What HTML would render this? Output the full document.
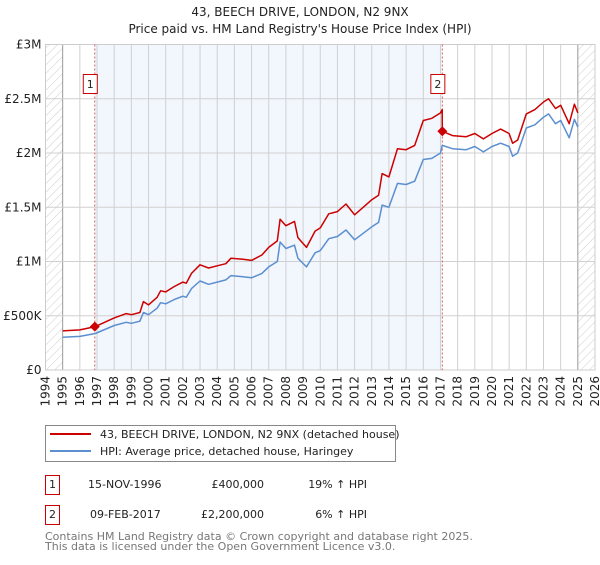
<!DOCTYPE html>
<html><head><meta charset="utf-8"><style>
body{margin:0;background:#fff;font-family:"Liberation Sans","DejaVu Sans",sans-serif;}
svg text{font-family:"DejaVu Sans","Liberation Sans",sans-serif;}
</style></head><body>
<svg id="c" width="600" height="560" xmlns="http://www.w3.org/2000/svg">
<defs><pattern id="hatch" width="6" height="6" patternUnits="userSpaceOnUse" patternTransform="rotate(45)"><line x1="0" y1="0" x2="0" y2="6" stroke="#ccc" stroke-width="1"/></pattern></defs>
<text x="300" y="16" text-anchor="middle" font-size="12" fill="#222">43, BEECH DRIVE, LONDON, N2 9NX</text>
<text x="300" y="33" text-anchor="middle" font-size="12" fill="#222">Price paid vs. HM Land Registry's House Price Index (HPI)</text>
<g id="plot"></g>
<g>
<rect x="45.5" y="425.5" width="350" height="36" fill="#fff" stroke="#888"/>
<line x1="50" y1="434" x2="91" y2="434" stroke="#cc0000" stroke-width="2"/>
<text x="100" y="438" font-size="11" fill="#222">43, BEECH DRIVE, LONDON, N2 9NX (detached house)</text>
<line x1="50" y1="451" x2="91" y2="451" stroke="#5b8fd0" stroke-width="2"/>
<text x="100" y="455" font-size="11" fill="#222">HPI: Average price, detached house, Haringey</text>
</g>
<g font-size="11" fill="#222">
<rect x="45.5" y="475.5" width="14" height="19" fill="#fff" stroke="#cc0000"/>
<text x="52.5" y="488" text-anchor="middle">1</text>
<text x="88" y="488">15-NOV-1996</text>
<text x="264" y="488" text-anchor="end">£400,000</text>
<text x="367" y="488" text-anchor="end">19% ↑ HPI</text>
<rect x="45.5" y="505.5" width="14" height="19" fill="#fff" stroke="#cc0000"/>
<text x="52.5" y="518" text-anchor="middle">2</text>
<text x="90" y="518">09-FEB-2017</text>
<text x="264" y="518" text-anchor="end">£2,200,000</text>
<text x="367" y="518" text-anchor="end">6% ↑ HPI</text>
</g>
<text x="45" y="540" font-size="11" fill="#777">Contains HM Land Registry data © Crown copyright and database right 2025.</text>
<text x="45" y="550" font-size="11" fill="#777">This data is licensed under the Open Government Licence v3.0.</text>
</svg>
<script>
const hpiYears=[1995.0,1996.0,1996.9,1998.0,1998.7,1999.0,1999.5,1999.7,2000.0,2000.5,2000.7,2001.0,2001.5,2002.0,2002.2,2002.5,2003.0,2003.5,2004.0,2004.5,2004.8,2005.5,2006.0,2006.6,2007.0,2007.5,2007.66,2008.0,2008.5,2008.7,2009.2,2009.7,2010.0,2010.5,2011.0,2011.5,2012.0,2012.5,2013.0,2013.4,2013.6,2014.0,2014.5,2015.0,2015.5,2016.0,2016.5,2017.0,2017.1,2017.11,2017.7,2018.5,2019.0,2019.5,2020.0,2020.5,2021.0,2021.2,2021.5,2022.0,2022.5,2023.0,2023.3,2023.7,2024.0,2024.5,2024.8,2025.0];
const hpiValues=[0.301,0.31,0.336,0.41,0.44,0.43,0.45,0.53,0.51,0.57,0.62,0.61,0.65,0.68,0.67,0.75,0.82,0.79,0.81,0.83,0.87,0.86,0.85,0.89,0.95,1.0,1.18,1.12,1.15,1.03,0.95,1.08,1.10,1.21,1.23,1.29,1.20,1.26,1.32,1.36,1.52,1.50,1.72,1.71,1.74,1.94,1.95,2.00,2.07,2.07,2.04,2.03,2.06,2.01,2.06,2.09,2.06,1.97,2.00,2.23,2.26,2.33,2.36,2.27,2.30,2.14,2.31,2.24];
const priceValues=[0.36,0.37,0.40,0.48,0.52,0.51,0.53,0.63,0.60,0.67,0.73,0.72,0.77,0.81,0.80,0.89,0.97,0.94,0.96,0.98,1.03,1.02,1.01,1.06,1.13,1.19,1.39,1.33,1.37,1.22,1.13,1.28,1.31,1.44,1.46,1.53,1.43,1.50,1.57,1.61,1.81,1.78,2.04,2.03,2.07,2.30,2.32,2.37,2.40,2.20,2.16,2.15,2.18,2.13,2.18,2.22,2.18,2.09,2.12,2.36,2.40,2.47,2.50,2.41,2.44,2.27,2.45,2.37];
const saleYears=[1996.87,2017.11];
const saleValues=[0.40,2.20];
const saleLabels=["1","2"];
const yTicks=[0,0.5,1,1.5,2,2.5,3];
const yTickLabels=["£0","£500K","£1M","£1.5M","£2M","£2.5M","£3M"];
const xTicks=[1994,1995,1996,1997,1998,1999,2000,2001,2002,2003,2004,2005,2006,2007,2008,2009,2010,2011,2012,2013,2014,2015,2016,2017,2018,2019,2020,2021,2022,2023,2024,2025,2026];

const X0=45.5,X1=595,Y0=370,Y1=44.5;
const xs=y=>X0+(y-1994)/32*(X1-X0);
const ys=v=>Y0-v/3*(Y0-Y1);
const NS="http://www.w3.org/2000/svg";
const g=document.getElementById('plot');
function mk(t,a){const e=document.createElementNS(NS,t);for(const k in a)e.setAttribute(k,a[k]);g.appendChild(e);return e;}

let r=mk('rect',{x:xs(saleYears[0]),y:Y1,width:xs(saleYears[1])-xs(saleYears[0]),height:Y0-Y1,fill:'#f2f6fd'});


let h1=mk('rect',{x:X0,y:Y1,width:xs(1995)-X0,height:Y0-Y1,fill:'url(#hatch)'});


let h2=mk('rect',{x:xs(2025),y:Y1,width:X1-xs(2025),height:Y0-Y1,fill:'url(#hatch)'});



xTicks.forEach((t,i)=>{
 const l=mk('line',{x1:xs(t),x2:xs(t),y1:Y1,y2:Y0,stroke:(t===1995||t===2025)?'#999':'#d0d0d0','stroke-width':1});
 
 
 const tx=mk('text',{x:0,y:0,transform:`translate(${xs(t)+4},${Y0+6}) rotate(-90)`,'text-anchor':'end','font-size':12,fill:'#222'});
 tx.textContent=t;
 
 
});
yTicks.forEach((t,i)=>{
 const l=mk('line',{x1:X0,x2:X1,y1:ys(t),y2:ys(t),stroke:'#d0d0d0','stroke-width':1});
 
 
 const tx=mk('text',{x:X0-4,y:ys(t)+4,'text-anchor':'end','font-size':12,fill:'#222'});
 tx.textContent=yTickLabels[i];
 
 
});
const fr=mk('rect',{x:X0,y:Y1,width:X1-X0,height:Y0-Y1,fill:'none',stroke:'#ccc'});



saleYears.forEach((s,i)=>{
 const l=mk('line',{x1:xs(s),x2:xs(s),y1:Y1,y2:Y0,stroke:'#e06060','stroke-width':1,'stroke-dasharray':'2,2'});
 
 
});
const pts=v=>hpiYears.map((y,i)=>xs(y).toFixed(1)+','+ys(v[i]).toFixed(1)).join(' ');
const hl=mk('polyline',{points:pts(hpiValues),fill:'none',stroke:'#5b8fd0','stroke-width':1.5,'stroke-linejoin':'round'});


const pl=mk('polyline',{points:pts(priceValues),fill:'none',stroke:'#cc0000','stroke-width':1.5,'stroke-linejoin':'round'});


saleYears.forEach((s,i)=>{
 const cx=xs(s),cy=ys(saleValues[i]);
 const d=mk('polygon',{points:`${cx},${cy-5} ${cx+5},${cy} ${cx},${cy+5} ${cx-5},${cy}`,fill:'#cc0000'});
 
 
 const b=mk('rect',{x:cx-11.5,y:74.5,width:14,height:19,fill:'#fff',stroke:'#cc0000'});
 
 
 const t=mk('text',{x:cx-4.5,y:88,'text-anchor':'middle','font-size':11,fill:'#222'});
 t.textContent=saleLabels[i];
 
 
});
</script>
</body></html>
